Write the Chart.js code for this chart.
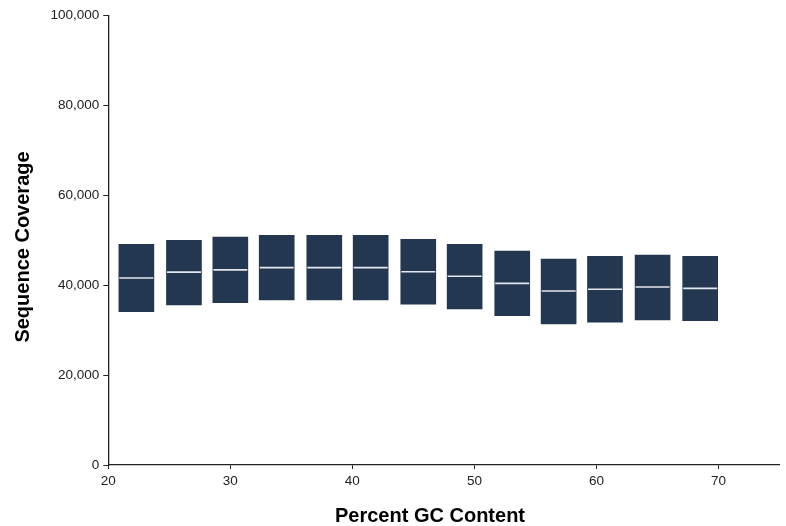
<!DOCTYPE html>
<html>
<head>
<meta charset="utf-8">
<title>Sequence Coverage by Percent GC Content</title>
<script src="https://cdn.jsdelivr.net/npm/chart.js@4.4.1/dist/chart.umd.min.js"></script>
<style>
  html, body { margin: 0; padding: 0; background: #ffffff; }
  #wrap { width: 786px; height: 526px; position: relative; }
</style>
</head>
<body>
<div id="wrap"><canvas id="chart"></canvas></div>
<script>
// GC-content bins (percent) and the coverage distribution in each bin
const gcContent = [22.3, 26.2, 30.0, 33.8, 37.7, 41.5, 45.4, 49.2, 53.1, 56.9, 60.7, 64.6, 68.5];
const lowerQuartile = [34100, 35600, 36100, 36700, 36700, 36700, 35800, 34700, 33200, 31400, 31800, 32300, 32100];
const medianCoverage = [41600, 42900, 43400, 43900, 43900, 43900, 43000, 42000, 40400, 38700, 39100, 39600, 39300];
const upperQuartile = [49100, 50000, 50700, 51100, 51100, 51100, 50200, 49100, 47600, 45800, 46400, 46700, 46400];

// Axis tick values
const xTickValues = [20, 30, 40, 50, 60, 70];
const yTickValues = [0, 20000, 40000, 60000, 80000, 100000];

const xTitle = 'Percent GC Content';
const yTitle = 'Sequence Coverage';

const FONT = '"Liberation Sans", Arial, Helvetica, sans-serif';
const BOX_COLOR = '#243751';
const MEDIAN_COLOR = '#e4e8ee';
const AXIS_COLOR = '#222222';

const boxData = gcContent.map((x, i) => ({ x: x, y: [lowerQuartile[i], upperQuartile[i]] }));
const medianData = gcContent.map((x, i) => ({ x: x, y: medianCoverage[i] }));

// Axis titles drawn at fixed spots around the plot
const axisTitles = {
  id: 'axisTitles',
  afterDraw(chart) {
    const ctx = chart.ctx;
    ctx.save();
    ctx.fillStyle = '#000000';
    ctx.font = 'bold 20px ' + FONT;
    ctx.textAlign = 'center';
    ctx.textBaseline = 'middle';
    ctx.fillText(xTitle, 430, 516);
    ctx.translate(23, 247);
    ctx.rotate(-Math.PI / 2);
    ctx.fillText(yTitle, 0, 0);
    ctx.restore();
  }
};

new Chart(document.getElementById('chart'), {
  type: 'bar',
  data: {
    datasets: [
      {
        type: 'line',
        label: 'Median',
        data: medianData,
        showLine: false,
        clip: false,
        pointStyle: 'line',
        pointRadius: 17,
        pointHoverRadius: 17,
        pointBorderWidth: 1.6,
        pointBorderColor: MEDIAN_COLOR,
        borderColor: MEDIAN_COLOR,
        order: 0
      },
      {
        type: 'bar',
        label: 'Interquartile range',
        data: boxData,
        backgroundColor: BOX_COLOR,
        borderWidth: 0,
        barThickness: 35,
        order: 1
      }
    ]
  },
  options: {
    responsive: true,
    maintainAspectRatio: false,
    animation: false,
    layout: { autoPadding: false, padding: { top: 15.5, right: 6.5, left: 0, bottom: 0 } },
    plugins: {
      legend: { display: false },
      tooltip: { enabled: false },
      title: { display: false }
    },
    scales: {
      x: {
        type: 'linear',
        min: 20,
        max: 75,
        offset: false,
        afterBuildTicks(scale) {
          scale.ticks = xTickValues.map(v => ({ value: v }));
        },
        afterFit(scale) {
          scale.height = 61;
          scale.paddingLeft = 0;
          scale.paddingRight = 0;
        },
        border: { display: true, color: AXIS_COLOR, width: 1.3 },
        grid: {
          display: true,
          drawOnChartArea: false,
          drawTicks: true,
          tickLength: 4,
          color: AXIS_COLOR,
          offset: false
        },
        ticks: {
          padding: 4,
          maxRotation: 0,
          color: '#222222',
          font: { family: FONT, size: 13.5 },
          callback: v => String(v)
        },
        title: { display: false }
      },
      y: {
        type: 'linear',
        min: 0,
        max: 100000,
        afterBuildTicks(scale) {
          scale.ticks = yTickValues.map(v => ({ value: v }));
        },
        afterFit(scale) {
          scale.width = 108.3;
          scale.paddingTop = 0;
          scale.paddingBottom = 0;
        },
        border: { display: true, color: AXIS_COLOR, width: 1.3 },
        grid: {
          display: true,
          drawOnChartArea: false,
          drawTicks: true,
          tickLength: 5,
          color: AXIS_COLOR
        },
        ticks: {
          padding: 4,
          color: '#222222',
          font: { family: FONT, size: 13.5 },
          callback: v => v.toLocaleString('en-US')
        },
        title: { display: false }
      }
    }
  },
  plugins: [axisTitles]
});
</script>
</body>
</html>
